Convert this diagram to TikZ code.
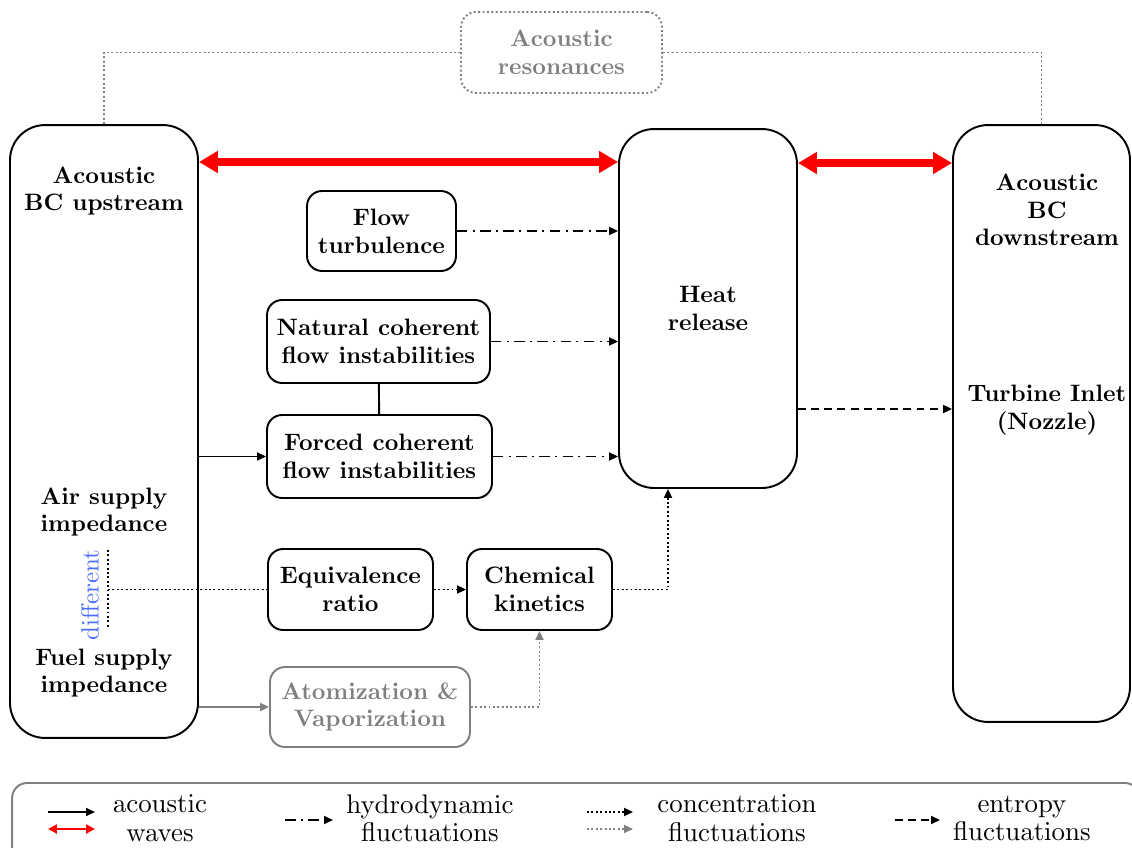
\documentclass[tikz,border=0pt]{standalone}
\usetikzlibrary{arrows.meta, positioning}
\definecolor{wavered}{HTML}{FF0000}
\definecolor{greyline}{HTML}{808080}
\definecolor{diffblue}{HTML}{4A6CF7}
\font\nodefnt=cmbx10 at 13.5pt
\font\legfnt=cmr10 at 15.3pt
\font\difffnt=cmr10 at 14.2pt

\begin{document}
\begin{tikzpicture}[x=0.02cm, y=-0.02cm,
      every node/.style={font={\fontsize{13.5}{15.8}\selectfont\nodefnt}, align=center},
      bigbox/.style={draw, line width=1.1pt, rounded corners=0.7cm, inner sep=0pt},
      box/.style={draw, line width=1.1pt, rounded corners=0.3cm, inner sep=2pt},
      wave/.style={{Triangle[length=3.8mm,width=4.2mm]}-{Triangle[length=3.8mm,width=4.2mm]}, line width=4.5pt, draw=wavered},
      ac/.style={-{Triangle[length=1.8mm,width=1.6mm]}, line width=1.1pt},
      hyd/.style={ac, dash pattern=on 6pt off 3pt on 1.2pt off 3pt},
      conc/.style={ac, dash pattern=on 1.1pt off 1.4pt},
      ent/.style={ac, dash pattern=on 4.5pt off 3pt},
      dotline/.style={line width=1.1pt, dash pattern=on 1.1pt off 1.4pt},
      leg/.style={font={\fontsize{15.3}{16}\selectfont\legfnt}}
    ]
    \useasboundingbox (0,0) rectangle (1132,848);
    % main boxes
    \node[bigbox, minimum width=3.76cm, minimum height=12.26cm] (up) at (104,431.5) {};
    \node[bigbox, minimum width=3.56cm, minimum height=7.18cm] (heat) at (708,308.5) {Heat\\release};
    \node[bigbox, minimum width=3.54cm, minimum height=11.94cm] (down) at (1041.5,423.5) {};
    \node (upbc) at (104,191) {Acoustic\\BC upstream};
    \node (air) at (104,512) {Air supply\\impedance};
    \node (fuel) at (104,673) {Fuel supply\\impedance};
    \node[rotate=90, text=diffblue, font=\difffnt] (diff) at (90,595) {different};
    \node (downbc) at (1047,210) {Acoustic\\BC\\downstream};
    \node (nozzle) at (1047,410) {Turbine Inlet\\(Nozzle)};
    % mechanisms
    \node[box, draw=greyline, text=greyline, dash pattern=on 1.1pt off 1.4pt, minimum width=4.02cm, minimum height=1.62cm] (res) at (561.5,52.5) {Acoustic\\resonances};
    \node[box, minimum width=2.98cm, minimum height=1.6cm] (turb) at (381.5,231) {Flow\\turbulence};
    \node[box, minimum width=4.46cm, minimum height=1.66cm] (nat) at (378.5,341.5) {Natural coherent\\flow instabilities};
    \node[box, minimum width=4.5cm, minimum height=1.66cm] (forc) at (379.5,456.5) {Forced coherent\\flow instabilities};
    \node[box, minimum width=3.3cm, minimum height=1.62cm] (eq) at (350.5,589.5) {Equivalence\\ratio};
    \node[box, minimum width=2.9cm, minimum height=1.62cm] (chem) at (539.5,589.5) {Chemical\\kinetics};
    \node[box, draw=greyline, text=greyline, minimum width=4cm, minimum height=1.6cm] (atom) at (370,707) {Atomization \&\\Vaporization};
    % connections
    \draw[greyline, dotline] (up.north) |- (res.west);
    \draw[greyline, dotline] (res.east) -| (down.north);
    \draw[wave] (up.east |- 0,162) -- (heat.west |- 0,162);
    \draw[wave] (heat.east |- 0,163) -- (down.west |- 0,163);
    \draw[hyd] (turb.east) -- (turb.east -| heat.west);
    \draw[hyd] (nat.east) -- (nat.east -| heat.west);
    \draw[hyd] (forc.east) -- (forc.east -| heat.west);
    \draw[line width=1.1pt] (nat) -- (forc);
    \draw[ac] (up.east |- forc.west) -- (forc.west);
    \draw[ac, greyline] (up.east |- atom.west) -- (atom.west);
    \draw[ent] (heat.east |- 0,409) -- (down.west |- 0,409);
    \coordinate (dtop) at (108,550);
    \coordinate (dbot) at (108,628);
    \draw[dotline] (dtop) -- (dbot);
    \draw[dotline] (dtop |- eq.west) -- (eq.west);
    \draw[conc] (eq) -- (chem);
    \draw[conc] (chem.east) -| (heat.south -| 668,0);
    \draw[conc, greyline] (atom.east) -| (chem.south);
    % legend
    \node[draw=greyline, line width=1.1pt, rounded corners=0.3cm, minimum width=22.56cm, minimum height=1.74cm] (legend) at (576,826.5) {};
    \node[leg] (lac) at (160,818) {acoustic\\waves};
    \node[leg] (lhyd) at (430,818) {hydrodynamic\\fluctuations};
    \node[leg] (lconc) at (737,818) {concentration\\fluctuations};
    \node[leg] (lent) at (1022,818) {entropy\\fluctuations};
    \coordinate (la) at (48,812);
    \coordinate (lw) at (48,829);
    \coordinate (lh) at (285,820);
    \coordinate (lc) at (587,812);
    \coordinate (lg) at (587,829);
    \coordinate (le) at (895,820);
    \draw[ac] (la) -- ++(47,0);
    \draw[{Triangle[length=1.8mm,width=1.8mm]}-{Triangle[length=1.8mm,width=1.8mm]}, line width=1.5pt, wavered] (lw) -- ++(47,0);
    \draw[hyd] (lh) -- ++(48,0);
    \draw[conc] (lc) -- ++(46,0);
    \draw[conc, greyline] (lg) -- ++(46,0);
    \draw[ent] (le) -- ++(45,0);
  \end{tikzpicture}
\end{document}
